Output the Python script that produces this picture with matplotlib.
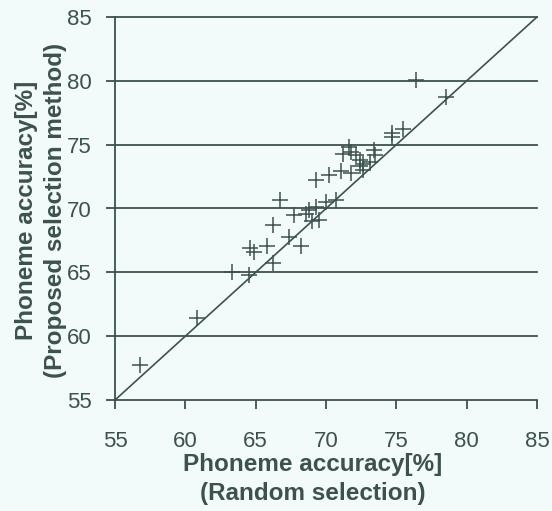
import matplotlib
matplotlib.use("Agg")
import matplotlib.pyplot as plt

random_acc = [56.75, 60.8, 63.3, 64.5, 64.6, 64.85, 65.8, 66.2, 66.2, 67.35,
              68.2, 67.7, 68.55, 68.8, 69.0, 69.5, 69.3, 70.0, 70.7, 66.75,
              69.3, 70.2, 71.05, 71.75, 72.6, 72.4, 72.6, 73.1, 72.4, 71.6,
              71.2, 71.8, 72.1, 73.4, 73.5, 74.7, 75.45, 74.7, 76.4, 78.55]
proposed_acc = [57.75, 61.4, 65.05, 64.8, 66.9, 66.6, 67.1, 65.7, 68.7, 67.8,
                67.1, 69.5, 69.6, 69.9, 69.0, 69.1, 70.1, 70.5, 70.65, 70.65,
                72.2, 72.6, 72.9, 72.8, 73.0, 73.3, 73.5, 73.65, 73.8, 74.85,
                74.3, 74.45, 74.2, 74.6, 74.2, 75.9, 76.2, 75.6, 80.1, 78.75]
ticks = [55, 60, 65, 70, 75, 80, 85]
xlabel = "Phoneme accuracy[%]\n(Random selection)"
ylabel = "Phoneme accuracy[%]\n(Proposed selection method)"

bg = "#f3fafa"
ink = "#3c524e"

plt.rcParams['font.family'] = ['Liberation Sans', 'DejaVu Sans']
W, H = 552, 511
fig = plt.figure(figsize=(W/100, H/100), dpi=100, facecolor=bg)
ax = fig.add_axes([115/W, 1-400/H, (537-115)/W, (400-17)/H])
ax.set_facecolor(bg)

ax.set_xlim(55, 85)
ax.set_ylim(55, 85)
ax.set_xticks(ticks)
ax.set_yticks(ticks)
ax.set_xticklabels([str(t) for t in ticks])
ax.set_yticklabels([str(t) for t in ticks])

for t in ticks[1:]:
    ax.axhline(t, color=ink, lw=1.3, zorder=1, clip_on=False)

ax.plot([55, 85], [55, 85], color=ink, lw=1.2, zorder=2, clip_on=False)
ax.scatter(random_acc, proposed_acc, marker='+', s=140, color=ink,
           linewidths=1.1, zorder=3, clip_on=False)

for s in ['top', 'right']:
    ax.spines[s].set_visible(False)
for s in ['left', 'bottom']:
    ax.spines[s].set_color(ink)
    ax.spines[s].set_linewidth(1.3)

ax.tick_params(axis='both', direction='out', length=6.5, width=1.3, color=ink,
               labelcolor=ink, labelsize=16)
ax.tick_params(axis='x', pad=16)
ax.tick_params(axis='y', pad=10)

fig.text(313/W, 1-479/H, xlabel, ha='center', va='center', fontsize=17.5,
         fontweight='bold', color=ink, linespacing=1.28, multialignment='center')
fig.text(41/W, 1-210/H, ylabel, ha='center', va='center', fontsize=17.5,
         fontweight='bold', color=ink, linespacing=1.3, rotation=90,
         multialignment='center')

fig.savefig("out.png", dpi=100, facecolor=bg)
